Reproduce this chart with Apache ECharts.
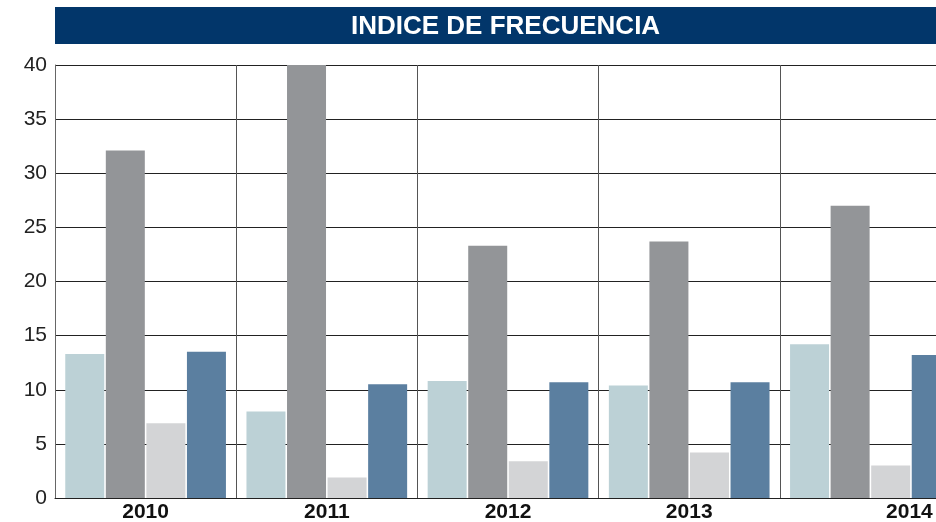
<!DOCTYPE html>
<html>
<head>
<meta charset="utf-8">
<script src="https://cdn.jsdelivr.net/npm/echarts@6/dist/echarts.min.js"></script>
<style>
  html, body { margin: 0; padding: 0; background: #fff; overflow: hidden; }
  /* el gráfico original está recortado a la derecha */
  #chart { width: 961px; height: 522px; }
</style>
</head>
<body>
<div id="chart"></div>
<script>
// datos
const years = ['2010', '2011', '2012', '2013', '2014']
const serieA = [13.3, 8.0, 10.8, 10.4, 14.2]
const serieB = [32.1, 40.0, 23.3, 23.7, 27.0]
const serieC = [6.9, 1.9, 3.4, 4.2, 3.0]
const serieD = [13.5, 10.5, 10.7, 10.7, 13.2]
const colores = ['#bcd1d6', '#939598', '#d3d4d6', '#5b7fa0']

const chart = echarts.init(document.getElementById('chart'))

const mkBar = (data, i) => ({
  type: 'bar',
  data: data,
  barWidth: 39,
  barGap: '4%',
  itemStyle: { color: colores[i] }
})

chart.setOption({
  animation: false,
  graphic: [
    { // barra del título
      type: 'rect',
      shape: { x: 55, y: 7, width: 881, height: 37 },
      style: { fill: '#02366a' },
      z: -1
    }
  ],
  title: {
    text: 'INDICE DE FRECUENCIA',
    left: 351,
    top: 14,
    padding: 0,
    textStyle: { color: '#fff', fontSize: 26, fontWeight: 'bold', fontFamily: 'Liberation Sans' }
  },
  grid: { left: 55, top: 65, right: 0, height: 433, outerBoundsMode: 'none' },
  xAxis: {
    type: 'category',
    data: years,
    axisTick: { show: false },
    axisLine: { lineStyle: { color: '#222', width: 1 } },
    splitLine: { show: true, lineStyle: { color: '#555', width: 1 } },
    axisLabel: {
      color: '#111',
      fontSize: 21,
      fontWeight: 'bold',
      fontFamily: 'Liberation Sans',
      margin: 4,
      formatter: v => v === '2014' ? '{s|' + v + '}' : v,
      rich: { s: { padding: [0, 0, 0, 78], fontSize: 21, fontWeight: 'bold', color: '#111', fontFamily: 'Liberation Sans' } }
    }
  },
  yAxis: {
    type: 'value',
    min: 0,
    max: 40,
    interval: 5,
    axisLine: { show: true, lineStyle: { color: '#666' } },
    axisTick: { show: false },
    axisLabel: { color: '#222', fontSize: 21, fontFamily: 'Liberation Sans', margin: 8 },
    splitLine: { lineStyle: { color: '#222', width: 1 } }
  },
  series: [serieA, serieB, serieC, serieD].map(mkBar)
})
</script>
</body>
</html>
